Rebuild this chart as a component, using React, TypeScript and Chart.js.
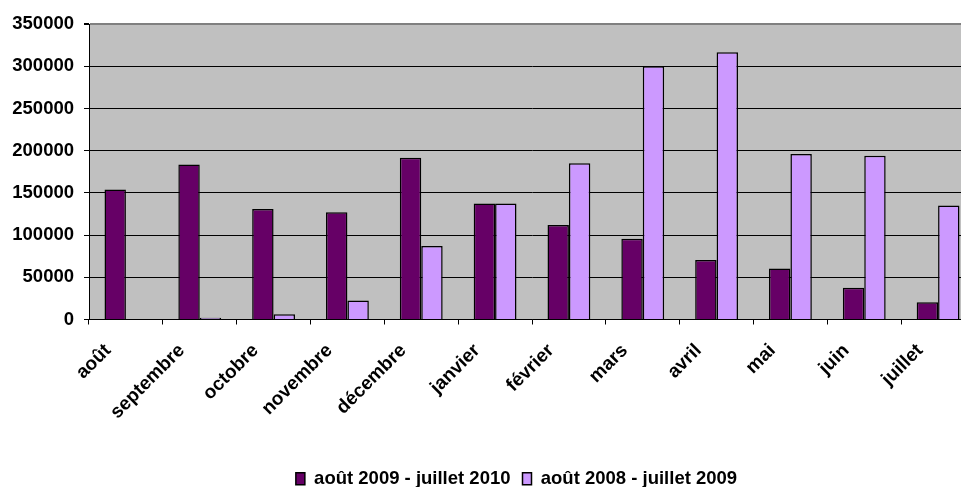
import React, { useEffect, useRef } from 'react';
import { Chart, registerables } from 'chart.js';

Chart.register(...registerables);

const categories = ['août', 'septembre', 'octobre', 'novembre', 'décembre', 'janvier', 'février', 'mars', 'avril', 'mai', 'juin', 'juillet'];
const series2009_2010 = [154000, 183500, 131000, 127000, 191500, 137500, 112000, 95500, 70500, 60500, 37500, 20500];
const series2008_2009 = [0, 2000, 6300, 22500, 87000, 137500, 185000, 300000, 316500, 196000, 194000, 135000];
const seriesLabels = ['août 2009 - juillet 2010', 'août 2008 - juillet 2009'];
const seriesColors = ['#660066', '#CC99FF'];
const yMin = 0;
const yMax = 350000;
const yStep = 50000;

const FONT = "'Liberation Sans', Arial, sans-serif";

const plotBg = {
  id: 'plotBg',
  beforeDraw(chart: any) {
    const { ctx, chartArea } = chart;
    const { left, top, right, bottom } = chartArea;
    ctx.save();
    ctx.fillStyle = '#C0C0C0';
    ctx.fillRect(left, top, right - left, bottom - top);
    ctx.restore();
  },
};

const legendShift = {
  id: 'legendShift',
  afterLayout(chart: any) {
    const lg = chart.legend;
    if (lg) {
      lg.left += 29;
      lg.right += 29;
    }
  },
};

export default function App() {
  const ref = useRef<HTMLCanvasElement | null>(null);

  useEffect(() => {
    if (!ref.current) return;
    const chart = new Chart(ref.current, {
      type: 'bar',
      data: {
        labels: categories,
        datasets: [
          {
            label: seriesLabels[0],
            data: series2009_2010,
            backgroundColor: seriesColors[0],
            borderColor: '#000000',
            borderWidth: 1.5,
            barPercentage: 1,
            categoryPercentage: 0.58,
          },
          {
            label: seriesLabels[1],
            data: series2008_2009,
            backgroundColor: seriesColors[1],
            borderColor: '#000000',
            borderWidth: 1.5,
            barPercentage: 1,
            categoryPercentage: 0.58,
          },
        ],
      },
      options: {
        responsive: false,
        animation: false,
        layout: { padding: { left: 0, right: 15, top: 24, bottom: 2 } },
        plugins: {
          tooltip: { enabled: false },
          legend: {
            position: 'bottom',
            labels: {
              color: '#000',
              font: { family: FONT, size: 18.5, weight: 'bold' },
              boxWidth: 9,
              boxHeight: 12,
              padding: 12,
            },
          },
        },
        scales: {
          x: {
            afterFit(scale: any) {
              scale.height = 138;
            },
            grid: {
              display: true,
              drawOnChartArea: false,
              drawTicks: true,
              tickLength: 5,
              color: '#000',
              offset: true,
            },
            border: { display: true, color: '#000', width: 1 },
            ticks: {
              autoSkip: false,
              minRotation: 45,
              maxRotation: 45,
              color: '#000',
              font: { family: FONT, size: 19, weight: 'bold' },
              padding: 15,
              labelOffset: -18,
            },
          },
          y: {
            min: yMin,
            max: yMax,
            afterFit(scale: any) {
              scale.width = 89;
            },
            grid: {
              color: (c: any) => (c.tick && c.tick.value === yMax ? '#808080' : '#000'),
              lineWidth: (c: any) => (c.tick && c.tick.value === yMax ? 2 : 1),
              tickColor: '#000',
              tickLength: 5,
            },
            border: { display: true, color: '#000', width: 1 },
            ticks: {
              stepSize: yStep,
              color: '#000',
              padding: 10,
              font: { family: FONT, size: 18.5, weight: 'bold' },
              callback: (v: any) => String(v),
            },
          },
        },
      },
      plugins: [plotBg, legendShift],
    });
    return () => chart.destroy();
  }, []);

  return (
    <div style={{ position: 'fixed', left: 0, top: 0, width: 961, height: 487, overflow: 'hidden', background: '#fff' }}>
      <canvas ref={ref} width={990} height={500} style={{ width: 990, height: 500, display: 'block' }} />
    </div>
  );
}
